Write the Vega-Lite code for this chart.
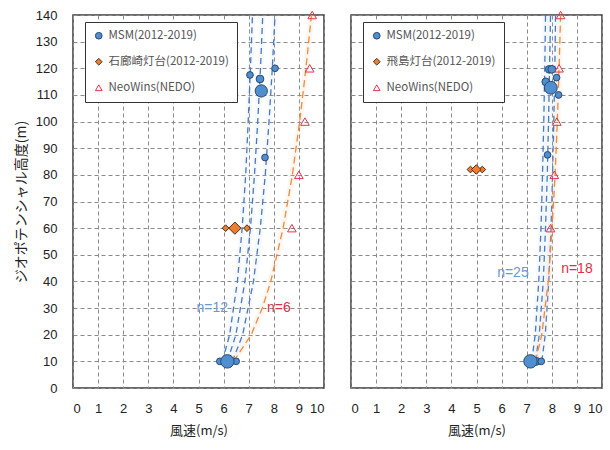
{
  "$schema": "https://vega.github.io/schema/vega-lite/v6.json",
  "padding": {"left": 13, "top": 2, "right": 2, "bottom": 2},
  "spacing": 25,
  "config": {
    "font": "Liberation Sans",
    "view": {"stroke": "#3a3a3a", "strokeWidth": 1.5},
    "axis": {
      "grid": true, "gridDash": [4, 3], "gridColor": "#8a8a8a", "gridWidth": 1,
      "ticks": false, "domain": false,
      "labelFont": "Liberation Sans", "labelFontSize": 13, "labelColor": "#222",
      "titleFont": "Noto Sans CJK JP", "titleFontSize": 13, "titleFontWeight": "normal", "titleColor": "#222"
    },
    "legend": {
      "orient": "none", "legendX": 12, "legendY": 7,
      "strokeColor": "#333", "fillColor": "white", "padding": 8,
      "rowPadding": 13, "labelFont": "Noto Sans CJK JP", "labelFontSize": 11.5,
      "labelColor": "#555", "symbolSize": 45, "symbolStrokeWidth": 1, "labelOffset": 4,
      "titlePadding": 0
    }
  },
  "resolve": {
    "scale": {"fill": "independent", "stroke": "independent", "shape": "independent", "size": "independent"},
    "legend": {"fill": "independent", "stroke": "independent", "shape": "independent"}
  },
  "hconcat": [
    {
      "width": 251, "height": 373,
      "encoding": {
        "x": {"field": "x", "type": "quantitative", "scale": {"domain": [0, 10], "nice": false},
              "axis": {"values": [0,1,2,3,4,5,6,7,8,9,10], "title": "風速(m/s)", "labelPadding": 14, "titlePadding": 9}},
        "y": {"field": "y", "type": "quantitative", "scale": {"domain": [0, 140], "nice": false},
              "axis": {"values": [0,10,20,30,40,50,60,70,80,90,100,110,120,130,140], "title": "ジオポテンシャル高度(m)", "titleFontSize": 14, "labelPadding": 16, "titlePadding": 7}}
      },
      "layer": [
        {
          "data": {"values": [
            {"line": "a", "x": 5.95, "y": 10}, {"line": "a", "x": 6.24, "y": 20}, {"line": "a", "x": 6.55, "y": 40}, {"line": "a", "x": 6.74, "y": 60}, {"line": "a", "x": 6.88, "y": 80}, {"line": "a", "x": 6.98, "y": 100}, {"line": "a", "x": 7.07, "y": 120}, {"line": "a", "x": 7.15, "y": 140},
            {"line": "b", "x": 6.15, "y": 10}, {"line": "b", "x": 6.49, "y": 20}, {"line": "b", "x": 6.85, "y": 40}, {"line": "b", "x": 7.07, "y": 60}, {"line": "b", "x": 7.23, "y": 80}, {"line": "b", "x": 7.36, "y": 100}, {"line": "b", "x": 7.47, "y": 120}, {"line": "b", "x": 7.56, "y": 140},
            {"line": "c", "x": 6.35, "y": 10}, {"line": "c", "x": 6.76, "y": 20}, {"line": "c", "x": 7.19, "y": 40}, {"line": "c", "x": 7.46, "y": 60}, {"line": "c", "x": 7.66, "y": 80}, {"line": "c", "x": 7.81, "y": 100}, {"line": "c", "x": 7.94, "y": 120}, {"line": "c", "x": 8.05, "y": 140}
          ]},
          "layer": [
            {"mark": {"type": "line", "color": "#a8cdf0", "strokeWidth": 6, "opacity": 0.1}, "encoding": {"detail": {"field": "line"}, "order": {"field": "y", "type": "quantitative"}}},
            {"mark": {"type": "line", "color": "#4a78c0", "strokeWidth": 1.3, "strokeDash": [6, 4]}, "encoding": {"detail": {"field": "line"}, "order": {"field": "y", "type": "quantitative"}}}
          ]
        },
        {
          "data": {"values": [
            {"x": 6.4, "y": 10}, {"x": 7.1, "y": 20}, {"x": 7.54, "y": 30}, {"x": 7.88, "y": 40}, {"x": 8.37, "y": 60}, {"x": 8.74, "y": 80}, {"x": 9.03, "y": 100}, {"x": 9.28, "y": 120}, {"x": 9.5, "y": 140}
          ]},
          "layer": [
            {"mark": {"type": "line", "color": "#f8c8a0", "strokeWidth": 6, "opacity": 0.15}, "encoding": {"order": {"field": "y", "type": "quantitative"}}},
            {"mark": {"type": "line", "color": "#f08a3c", "strokeWidth": 1.3, "strokeDash": [7, 4]}, "encoding": {"order": {"field": "y", "type": "quantitative"}}}
          ]
        },
        {
          "data": {"values": [
            {"series": "MSM(2012-2019)", "x": 5.85, "y": 10, "n": 1},
            {"series": "MSM(2012-2019)", "x": 6.5, "y": 10, "n": 1},
            {"series": "MSM(2012-2019)", "x": 6.15, "y": 10, "n": 10},
            {"series": "MSM(2012-2019)", "x": 7.05, "y": 117.5, "n": 1},
            {"series": "MSM(2012-2019)", "x": 7.45, "y": 116, "n": 2},
            {"series": "MSM(2012-2019)", "x": 7.5, "y": 111.5, "n": 8},
            {"series": "MSM(2012-2019)", "x": 8.05, "y": 120, "n": 1},
            {"series": "MSM(2012-2019)", "x": 7.65, "y": 86.5, "n": 1},
            {"series": "石廊崎灯台(2012-2019)", "x": 6.08, "y": 60, "n": 1},
            {"series": "石廊崎灯台(2012-2019)", "x": 6.93, "y": 60, "n": 1},
            {"series": "石廊崎灯台(2012-2019)", "x": 6.45, "y": 60, "n": 8},
            {"series": "NeoWins(NEDO)", "x": 8.72, "y": 60, "n": 3},
            {"series": "NeoWins(NEDO)", "x": 9.0, "y": 80, "n": 3},
            {"series": "NeoWins(NEDO)", "x": 9.24, "y": 100, "n": 3},
            {"series": "NeoWins(NEDO)", "x": 9.43, "y": 120, "n": 3},
            {"series": "NeoWins(NEDO)", "x": 9.53, "y": 140, "n": 3}
          ]},
          "mark": {"type": "point", "strokeWidth": 1, "opacity": 1},
          "encoding": {
            "fill": {"field": "series", "type": "nominal", "scale": {"domain": ["MSM(2012-2019)", "石廊崎灯台(2012-2019)", "NeoWins(NEDO)"], "range": ["#4f8fd0", "#ee7d32", "transparent"]}, "legend": {"title": null}},
            "stroke": {"field": "series", "type": "nominal", "scale": {"domain": ["MSM(2012-2019)", "石廊崎灯台(2012-2019)", "NeoWins(NEDO)"], "range": ["#2a4870", "#4a2c12", "#e2344e"]}, "legend": {"title": null}},
            "shape": {"field": "series", "type": "nominal", "scale": {"domain": ["MSM(2012-2019)", "石廊崎灯台(2012-2019)", "NeoWins(NEDO)"], "range": ["circle", "diamond", "triangle-up"]}, "legend": {"title": null}},
            "size": {"field": "n", "type": "quantitative", "scale": {"domain": [1, 10], "range": [45, 180]}, "legend": null}
          }
        },
        {
          "data": {"values": [{"x": 5.55, "y": 30, "label": "n=12"}]},
          "mark": {"type": "text", "fontSize": 14, "color": "#6a9ad6", "font": "Liberation Sans"},
          "encoding": {"text": {"field": "label"}}
        },
        {
          "data": {"values": [{"x": 8.2, "y": 30, "label": "n=6"}]},
          "mark": {"type": "text", "fontSize": 14, "color": "#e03040", "font": "Liberation Sans"},
          "encoding": {"text": {"field": "label"}}
        }
      ]
    },
    {
      "width": 251, "height": 373,
      "encoding": {
        "x": {"field": "x", "type": "quantitative", "scale": {"domain": [0, 10], "nice": false},
              "axis": {"values": [0,1,2,3,4,5,6,7,8,9,10], "title": "風速(m/s)", "labelPadding": 14, "titlePadding": 9}},
        "y": {"field": "y", "type": "quantitative", "scale": {"domain": [0, 140], "nice": false},
              "axis": {"values": [0,10,20,30,40,50,60,70,80,90,100,110,120,130,140], "title": null, "labels": false}}
      },
      "layer": [
        {
          "data": {"values": [
            {"line": "a", "x": 7.2, "y": 10}, {"line": "a", "x": 7.34, "y": 20}, {"line": "a", "x": 7.48, "y": 40}, {"line": "a", "x": 7.57, "y": 60}, {"line": "a", "x": 7.63, "y": 80}, {"line": "a", "x": 7.68, "y": 100}, {"line": "a", "x": 7.72, "y": 120}, {"line": "a", "x": 7.75, "y": 140},
            {"line": "b", "x": 7.35, "y": 10}, {"line": "b", "x": 7.5, "y": 20}, {"line": "b", "x": 7.66, "y": 40}, {"line": "b", "x": 7.75, "y": 60}, {"line": "b", "x": 7.82, "y": 80}, {"line": "b", "x": 7.87, "y": 100}, {"line": "b", "x": 7.91, "y": 120}, {"line": "b", "x": 7.95, "y": 140},
            {"line": "c", "x": 7.6, "y": 10}, {"line": "c", "x": 7.74, "y": 20}, {"line": "c", "x": 7.88, "y": 40}, {"line": "c", "x": 7.97, "y": 60}, {"line": "c", "x": 8.03, "y": 80}, {"line": "c", "x": 8.08, "y": 100}, {"line": "c", "x": 8.12, "y": 120}, {"line": "c", "x": 8.15, "y": 140}
          ]},
          "layer": [
            {"mark": {"type": "line", "color": "#a8cdf0", "strokeWidth": 6, "opacity": 0.1}, "encoding": {"detail": {"field": "line"}, "order": {"field": "y", "type": "quantitative"}}},
            {"mark": {"type": "line", "color": "#4a78c0", "strokeWidth": 1.3, "strokeDash": [6, 4]}, "encoding": {"detail": {"field": "line"}, "order": {"field": "y", "type": "quantitative"}}}
          ]
        },
        {
          "data": {"values": [
            {"x": 7.35, "y": 10}, {"x": 7.6, "y": 20}, {"x": 7.86, "y": 40}, {"x": 8.01, "y": 60}, {"x": 8.13, "y": 80}, {"x": 8.22, "y": 100}, {"x": 8.29, "y": 120}, {"x": 8.35, "y": 140}
          ]},
          "layer": [
            {"mark": {"type": "line", "color": "#f8c8a0", "strokeWidth": 6, "opacity": 0.15}, "encoding": {"order": {"field": "y", "type": "quantitative"}}},
            {"mark": {"type": "line", "color": "#f08a3c", "strokeWidth": 1.3, "strokeDash": [7, 4]}, "encoding": {"order": {"field": "y", "type": "quantitative"}}}
          ]
        },
        {
          "data": {"values": [
            {"series": "MSM(2012-2019)", "x": 7.4, "y": 10, "n": 2},
            {"series": "MSM(2012-2019)", "x": 7.58, "y": 10, "n": 1},
            {"series": "MSM(2012-2019)", "x": 7.15, "y": 10, "n": 10},
            {"series": "MSM(2012-2019)", "x": 7.9, "y": 119.6, "n": 2},
            {"series": "MSM(2012-2019)", "x": 8.0, "y": 119.6, "n": 2},
            {"series": "MSM(2012-2019)", "x": 8.19, "y": 116.5, "n": 1},
            {"series": "MSM(2012-2019)", "x": 7.76, "y": 114.9, "n": 2},
            {"series": "MSM(2012-2019)", "x": 8.27, "y": 110, "n": 1},
            {"series": "MSM(2012-2019)", "x": 7.96, "y": 112.7, "n": 9},
            {"series": "MSM(2012-2019)", "x": 7.83, "y": 87.5, "n": 1},
            {"series": "飛島灯台(2012-2019)", "x": 4.76, "y": 82, "n": 1},
            {"series": "飛島灯台(2012-2019)", "x": 5.23, "y": 82, "n": 1},
            {"series": "飛島灯台(2012-2019)", "x": 4.99, "y": 82, "n": 4},
            {"series": "NeoWins(NEDO)", "x": 7.95, "y": 60, "n": 3},
            {"series": "NeoWins(NEDO)", "x": 8.1, "y": 80, "n": 3},
            {"series": "NeoWins(NEDO)", "x": 8.2, "y": 100, "n": 3},
            {"series": "NeoWins(NEDO)", "x": 8.29, "y": 120, "n": 3},
            {"series": "NeoWins(NEDO)", "x": 8.35, "y": 140, "n": 3}
          ]},
          "mark": {"type": "point", "strokeWidth": 1, "opacity": 1},
          "encoding": {
            "fill": {"field": "series", "type": "nominal", "scale": {"domain": ["MSM(2012-2019)", "飛島灯台(2012-2019)", "NeoWins(NEDO)"], "range": ["#4f8fd0", "#ee7d32", "transparent"]}, "legend": {"title": null}},
            "stroke": {"field": "series", "type": "nominal", "scale": {"domain": ["MSM(2012-2019)", "飛島灯台(2012-2019)", "NeoWins(NEDO)"], "range": ["#2a4870", "#4a2c12", "#e2344e"]}, "legend": {"title": null}},
            "shape": {"field": "series", "type": "nominal", "scale": {"domain": ["MSM(2012-2019)", "飛島灯台(2012-2019)", "NeoWins(NEDO)"], "range": ["circle", "diamond", "triangle-up"]}, "legend": {"title": null}},
            "size": {"field": "n", "type": "quantitative", "scale": {"domain": [1, 10], "range": [45, 180]}, "legend": null}
          }
        },
        {
          "data": {"values": [{"x": 6.45, "y": 43, "label": "n=25"}]},
          "mark": {"type": "text", "fontSize": 14, "color": "#6a9ad6", "font": "Liberation Sans"},
          "encoding": {"text": {"field": "label"}}
        },
        {
          "data": {"values": [{"x": 9.0, "y": 44.5, "label": "n=18"}]},
          "mark": {"type": "text", "fontSize": 14, "color": "#e03040", "font": "Liberation Sans"},
          "encoding": {"text": {"field": "label"}}
        }
      ]
    }
  ]
}
